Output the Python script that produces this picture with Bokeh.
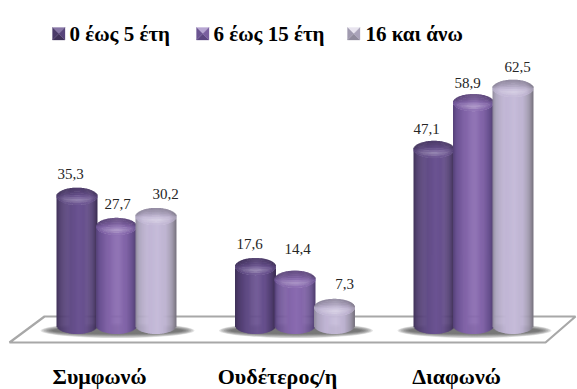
import numpy as np
from bokeh.core.properties import value
from bokeh.embed import file_html
from bokeh.models import ColumnDataSource, Range1d
from bokeh.plotting import figure
from bokeh.resources import INLINE

categories = ["Συμφωνώ", "Ουδέτερος/η", "Διαφωνώ"]
series_names = ["0 έως 5 έτη", "6 έως 15 έτη", "16 και άνω"]
values_0_5 = [35.3, 17.6, 47.1]
values_6_15 = [27.7, 14.4, 58.9]
values_16_up = [30.2, 7.3, 62.5]
all_series = [values_0_5, values_6_15, values_16_up]

WIDTH, HEIGHT = 577, 389
PX_PER_UNIT = 3.97       # vertical scale
PX_PER_GROUP = 178.5     # distance between category groups
ZERO_PX = 336            # screen row of value 0
GROUP0_PX = 116          # screen column of the first group
BAR_W = 40.5
BAR_STEP = 39.5
CAP_B = 8.5              # half height of the cylinder's elliptical ends
BASE_PX = 325            # screen row of the centre of each cylinder's foot

# body shading across the cylinder, left edge to right edge
SHADE_T = [-1.0, -0.82, -0.45, 0.1, 0.5, 0.8, 1.0]
BODY_STOPS = [
    ["#3f3158", "#4d3b6c", "#5f4a83", "#6b5392", "#654e8a", "#4f3d6f", "#3a2c52"],
    ["#554177", "#6a5192", "#8063a6", "#8a6bb1", "#8063a6", "#67508e", "#4e3c6e"],
    ["#8f8a9c", "#aba3bd", "#bfb4d3", "#c6bcd9", "#bcb1cf", "#9d96aa", "#77737f"],
]
LEGEND_FACES = [
    ["#8776a6", "#3f3158", "#4a3a68", "#57447a"],
    ["#b7a6d2", "#5c4680", "#6b5491", "#7a5f9f"],
    ["#e8e4ef", "#8f8a9c", "#a09aaf", "#aaa3ba"],
]

# label placement relative to the centre of each bar and the value row
# (rows are categories, columns are series)
LABEL_DX = [[-6.5, 1, 9.5], [-6, 2.5, 10], [-7.5, -6, 4.5]]
LABEL_DY = [[-22, -23, -23], [-23, -30, -24], [-21, -20, -21]]

CATEGORY_CENTER_PX = [99, 277, 456]
CATEGORY_ROW_PX = 376
LEGEND_BOX_PX = [52, 196, 347]
LEGEND_TEXT_PX = [69, 213, 365]
LEGEND_ROW_PX = 33


def x_data(px):
    return (np.asarray(px, dtype=float) - GROUP0_PX) / PX_PER_GROUP


def y_data(py):
    return (ZERO_PX - np.asarray(py, dtype=float)) / PX_PER_UNIT


def rgb(hexcolor):
    return np.array([int(hexcolor[i:i + 2], 16) for i in (1, 3, 5)], dtype=float)


def to_hex(c):
    return "#%02x%02x%02x" % tuple(int(round(min(255, max(0, v)))) for v in c)


def body_rgb(stops, t):
    table = np.array([rgb(c) for c in stops])
    return np.array([np.interp(t, SHADE_T, table[:, i]) for i in range(3)])


def cap_rgb(stops, t, v):
    """Colour on the top face; v runs from -1 at the back rim to 1 at the front rim."""
    base = body_rgb(stops, t * 0.75)
    dark = np.interp(v, [-1, -0.5, 0.1, 1], [0.74, 0.84, 1.0, 1.0])
    glow = np.interp(v, [-0.1, 0.5, 0.95], [0.0, 0.3, 0.0]) * (1 - t ** 2) ** 1.5
    return base * dark * (1 - glow) + 255 * glow


p = figure(
    width=WIDTH,
    height=HEIGHT,
    output_backend="svg",
    toolbar_location=None,
    min_border=0,
    x_range=Range1d(float(x_data(0)), float(x_data(WIDTH))),
    y_range=Range1d(float(y_data(HEIGHT)), float(y_data(0))),
)
p.axis.visible = False
p.grid.visible = False
p.outline_line_color = None
p.background_fill_color = "white"
p.border_fill_color = "white"

# floor plate
floor_x = [9, 545, 575, 44]
floor_y = [342, 342, 316, 316]
p.patch(x_data(floor_x), y_data(floor_y), fill_color="white",
        line_color="#a8a8a8", line_width=2.2)

# soft shadows on the floor, one per group
for g in range(len(categories)):
    cx = GROUP0_PX + g * PX_PER_GROUP + 1
    for k in range(8):
        grow = 1 - k / 8
        p.ellipse(float(x_data(cx)), float(y_data(330)),
                  width=(128 + 26 * grow) / PX_PER_GROUP,
                  height=(6 + 9 * grow) / PX_PER_UNIT,
                  fill_color="#404040", fill_alpha=0.14, line_color=None)

# cylinders, drawn as thin vertical strips with the ends curved
for g in range(len(categories)):
    for s in range(len(all_series)):
        val = all_series[s][g]
        center = GROUP0_PX + g * PX_PER_GROUP + (s - 1) * BAR_STEP
        top_row = ZERO_PX - val * PX_PER_UNIT
        n = 42
        edges = np.linspace(-1, 1, n + 1)
        mids = (edges[:-1] + edges[1:]) / 2
        half = BAR_W / 2
        arc = CAP_B * np.sqrt(np.clip(1 - mids ** 2, 0, 1))
        left = center + edges[:-1] * half - 0.25
        right = center + edges[1:] * half + 0.25
        src = ColumnDataSource(dict(
            left=x_data(left),
            right=x_data(right),
            top=y_data(top_row + arc),
            bottom=y_data(BASE_PX + arc),
            color=[to_hex(body_rgb(BODY_STOPS[s], t)) for t in mids],
        ))
        p.quad(left="left", right="right", top="top", bottom="bottom", source=src,
               fill_color="color", line_color=None)

        # top face: each strip is cut into short cells shaded front to back
        rows = 9
        cap = dict(left=[], right=[], top=[], bottom=[], color=[])
        for i, t in enumerate(mids):
            v_edges = np.linspace(-1, 1, rows + 1)
            for j in range(rows):
                v = (v_edges[j] + v_edges[j + 1]) / 2
                cap["left"].append(float(x_data(left[i])))
                cap["right"].append(float(x_data(right[i])))
                cap["top"].append(float(y_data(top_row + v_edges[j] * arc[i] - 0.2)))
                cap["bottom"].append(float(y_data(top_row + v_edges[j + 1] * arc[i] + 0.2)))
                cap["color"].append(to_hex(cap_rgb(BODY_STOPS[s], t, v)))
        p.quad(left="left", right="right", top="top", bottom="bottom",
               source=ColumnDataSource(cap), fill_color="color", line_color=None)

# value labels
for s, vals in enumerate(all_series):
    xs = [GROUP0_PX + g * PX_PER_GROUP + (s - 1) * BAR_STEP + LABEL_DX[g][s] for g in range(3)]
    src = ColumnDataSource(dict(
        x=x_data(xs),
        y=vals,
        yo=[LABEL_DY[g][s] for g in range(3)],
        label=[f"{v:.1f}".replace(".", ",") for v in vals],
    ))
    p.text(x="x", y="y", text="label", y_offset="yo", source=src,
           text_font=value("Liberation Serif"), text_font_size="15px",
           text_color="#262626", text_align="center", text_baseline="alphabetic")

# category labels
p.text(x=x_data(CATEGORY_CENTER_PX), y=[float(y_data(CATEGORY_ROW_PX))] * 3, text=categories,
       text_font=value("Liberation Serif"), text_font_size="22px",
       text_font_style="bold", text_color="#000000",
       text_align="center", text_baseline="alphabetic")

# legend
for i, name in enumerate(series_names):
    x0, y0, size = LEGEND_BOX_PX[i], 27, 12.5
    xm, ym = x0 + size / 2, y0 + size / 2
    x1, y1 = x0 + size, y0 + size
    tris = [
        ([x0, x1, xm], [y0, y0, ym]),
        ([x0, x1, xm], [y1, y1, ym]),
        ([x0, x0, xm], [y0, y1, ym]),
        ([x1, x1, xm], [y0, y1, ym]),
    ]
    for (tx, ty), color in zip(tris, LEGEND_FACES[i]):
        p.patch(x_data(tx), y_data(ty), fill_color=color, line_color=color, line_width=0.3)
    p.text(x=[float(x_data(LEGEND_TEXT_PX[i]))], y=[float(y_data(LEGEND_ROW_PX))], text=[name],
           text_font=value("Liberation Serif"), text_font_size="21px",
           text_font_style="bold", text_color="#000000",
           text_align="left", text_baseline="alphabetic")

open("out.html", "w").write(file_html(p, INLINE))
